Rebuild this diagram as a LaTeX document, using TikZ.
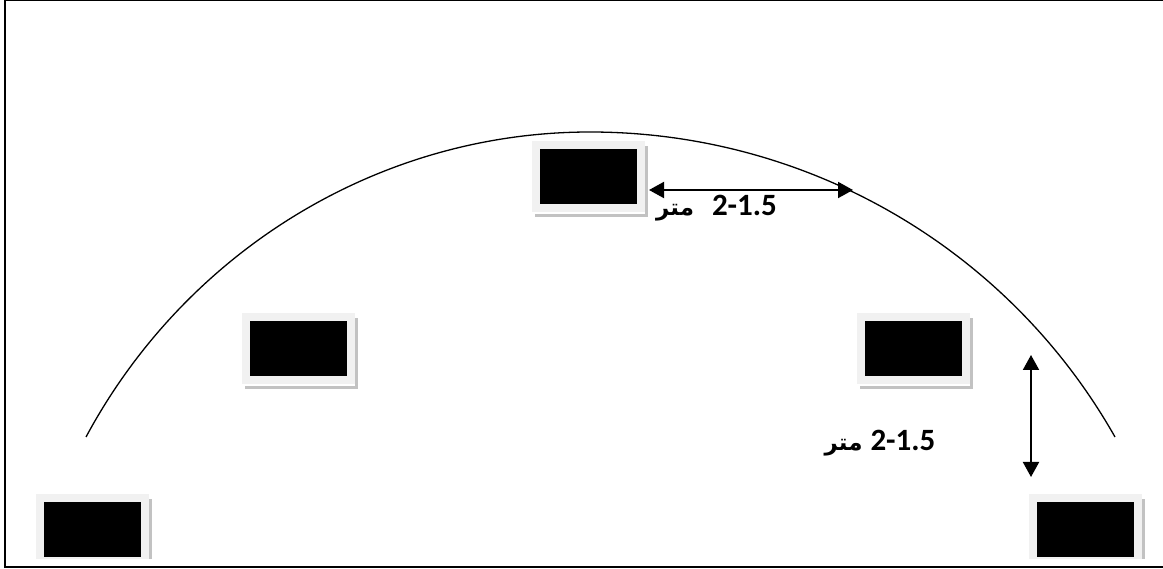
\documentclass[tikz,border=0pt]{standalone}
\usepackage{fontspec}
\setmainfont{Carlito}
\newfontfamily\arabicfont[Script=Arabic]{DejaVu Sans}
\TeXXeTstate=1
\usetikzlibrary{arrows.meta,shadows}
\definecolor{framegray}{gray}{0.945}
\definecolor{shadowgray}{gray}{0.76}
\tikzset{
  screenbox/.style={rectangle,fill=black,draw=framegray,line width=8pt,inner sep=0pt,
    minimum width=105pt,minimum height=63pt,
    general shadow={shadow xshift=3pt,shadow yshift=-5pt,fill=white,draw=shadowgray,line width=8pt},
    general shadow={shadow xshift=0pt,shadow yshift=-2pt,fill=white,draw=white,line width=8pt}},
  distarrow/.style={{Triangle[length=15pt,width=16pt]}-{Triangle[length=15pt,width=16pt]},line width=2pt},
  distlabel/.style={inner sep=0pt,font=\bfseries\fontsize{31pt}{34pt}\selectfont}
}
\newcommand{\distmeter}[1]{\beginR\beginL 2-1.5\endL\hspace{#1}{\arabicfont\fontsize{23pt}{28pt}\selectfont متر}\endR}
\begin{document}
\begin{tikzpicture}[x=1pt,y=-1pt,line join=miter]
\useasboundingbox (0,0) rectangle (1163,569);
\node (frame) [rectangle,draw,line width=1.6pt,inner sep=0pt,minimum width=1160pt,minimum height=566.5pt] at (585,283.75) {};
\node (top) [screenbox] at (588.5,177) {};
\node (left) [screenbox] at (298.5,349) {};
\node (right) [screenbox] at (913.5,349) {};
\begin{scope}
\clip (0,480) rectangle (1163,558);
\node (farleft) [screenbox] at (92,529) {};
\node (farright) [screenbox] at (1085.5,529) {};
\end{scope}
\coordinate (arcleft) at (86,437);
\coordinate (arcpeak) at (590,132);
\coordinate (arcright) at (1115,437);
\coordinate (ptop) at (649,190);
\coordinate (pcurve) at (853,190);
\coordinate (pupper) at (1031,355);
\coordinate (plower) at (1031,477);
\draw[line width=1.3pt] (arcleft) .. controls (186,251) and (379,132) .. (arcpeak) .. controls (807,132) and (1008,248) .. (arcright);
\draw[distarrow] (ptop) -- (pcurve);
\draw[distarrow] (pupper) -- (plower);
\node (labeltop) [distlabel] at (716.5,208) {\distmeter{18pt}};
\node (labelside) [distlabel] at (880,443) {\distmeter{8pt}};
\end{tikzpicture}
\end{document}
